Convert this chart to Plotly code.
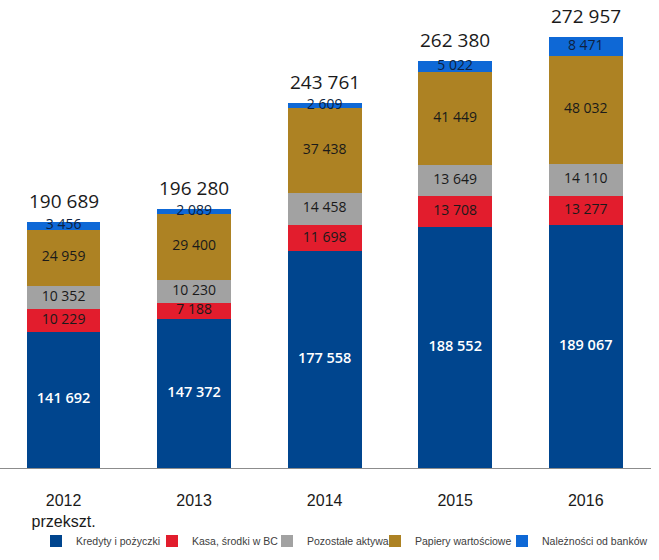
import plotly.graph_objects as go

years = ["2012<br>przekszt.", "2013", "2014", "2015", "2016"]
kredyty = [141692, 147372, 177558, 188552, 189067]
kasa = [10229, 7188, 11698, 13708, 13277]
pozostale = [10352, 10230, 14458, 13649, 14110]
papiery = [24959, 29400, 37438, 41449, 48032]
naleznosci = [3456, 2089, 2609, 5022, 8471]
totals = [190689, 196280, 243761, 262380, 272957]

series_names = ["Kredyty i pożyczki", "Kasa, środki w BC", "Pozostałe aktywa",
                "Papiery wartościowe", "Należności od banków"]
series_values = [kredyty, kasa, pozostale, papiery, naleznosci]
colors = ["#00458e", "#e21d2d", "#a2a2a2", "#ad8223", "#0e68d6"]
label_colors = ["#ffffff", "#1a1a1a", "#1a1a1a", "#1a1a1a", "#0d1f40"]
legend_widths = [71, 70, 63, 82, 112]

Y_MIN, Y_MAX = 81000, 285000


def fmt(v):
    return f"{v:,}".replace(",", " ")


xpos = list(range(len(years)))

fig = go.Figure()
for name, vals, col, lw in zip(series_names, series_values, colors, legend_widths):
    fig.add_trace(go.Bar(x=xpos, y=vals, name=name, marker=dict(color=col, line=dict(width=0)),
                         width=0.565, hoverinfo="skip", legendwidth=lw))

# segment labels
base = [0] * len(years)
for i, (vals, lc) in enumerate(zip(series_values, label_colors)):
    mids = []
    for j, v in enumerate(vals):
        lo = max(base[j], Y_MIN)
        hi = base[j] + v
        mids.append((lo + hi) / 2)
        base[j] += v
    fig.add_trace(go.Scatter(
        x=xpos, y=mids, mode="text", text=[fmt(v) for v in vals],
        textfont=dict(family="Open Sans", size=14 if i else 14.5, color=lc,
                      weight=600 if i == 0 else 400),
        showlegend=False, hoverinfo="skip", cliponaxis=False))

for x, t in zip(xpos, totals):
    fig.add_annotation(x=x, y=t, text=fmt(t), showarrow=False, yshift=21,
                       font=dict(family="Open Sans", size=19, color="#1a1a1a"))

fig.update_layout(
    width=659, height=560,
    margin=dict(l=0, r=8, t=10, b=92),
    barmode="stack",
    plot_bgcolor="white", paper_bgcolor="white",
    showlegend=True,
    legend=dict(orientation="h", x=0.0614, xanchor="left", y=-0.1594, yanchor="middle",
                traceorder="normal", itemwidth=30,
                font=dict(family="Liberation Sans, Arial", size=10.5, color="#404040")),
    xaxis=dict(range=[-0.487, 4.5], showline=True, linecolor="#8c8c8c",
               linewidth=1.2, showgrid=False, zeroline=False, ticks="",
               tickmode="array", tickvals=xpos, ticktext=years,
               ticklabelstandoff=18,
               tickfont=dict(family="Liberation Sans, Arial", size=16, color="#1a1a1a")),
    yaxis=dict(visible=False, range=[Y_MIN, Y_MAX], showgrid=False, zeroline=False),
)

fig.write_html("out.html")
